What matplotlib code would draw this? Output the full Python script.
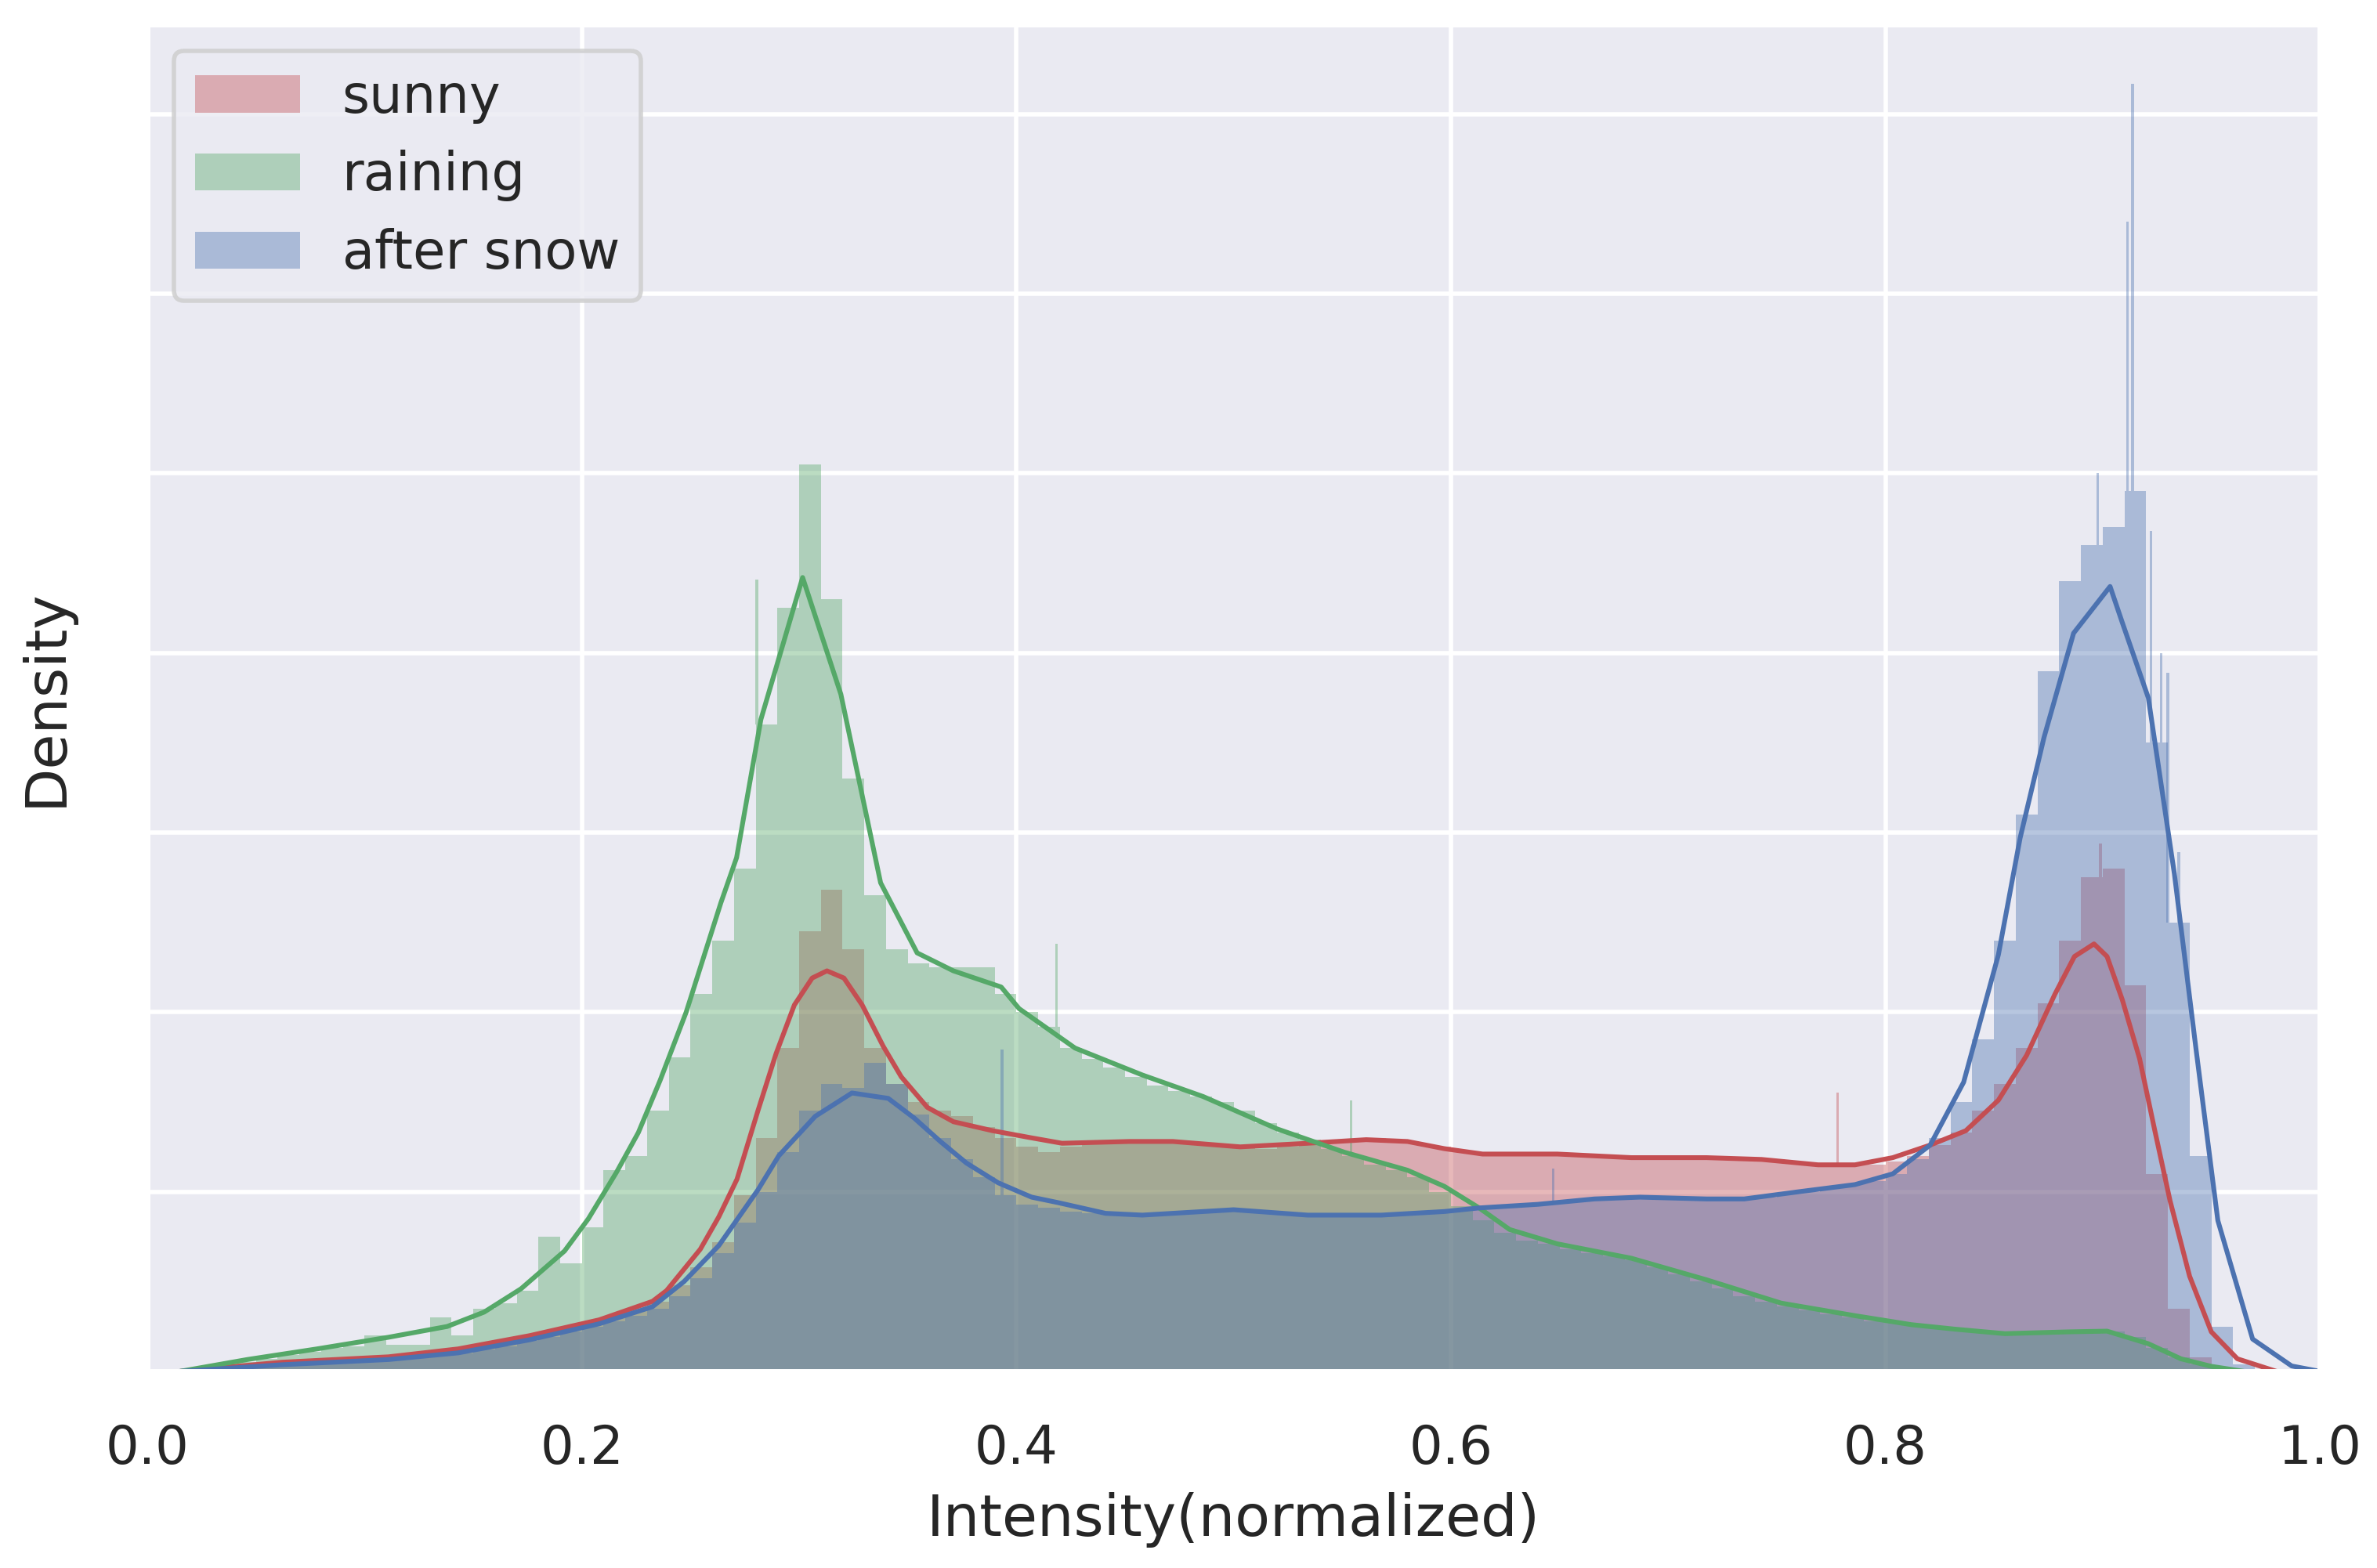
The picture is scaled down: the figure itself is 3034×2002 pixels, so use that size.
import numpy as np
import matplotlib.pyplot as plt
import seaborn as sns

sns.set_theme(style='darkgrid', font_scale=1.1)
plt.rcParams['font.family'] = ['DejaVu Sans']

labels = ['sunny', 'raining', 'after snow']
colors = ['#C44E52', '#55A868', '#4C72B0']

# histogram heights, 100 bins of width 0.01 over [0, 1]
sunny_hist = [0.0, 0.005, 0.01, 0.02, 0.03, 0.04, 0.05, 0.06, 0.065, 0.07,
              0.075, 0.08, 0.09, 0.1, 0.12, 0.14, 0.16, 0.19, 0.21, 0.24,
              0.27, 0.31, 0.34, 0.39, 0.48, 0.58, 0.72, 0.98, 1.3, 1.8,
              2.45, 2.68, 2.35, 1.8, 1.6, 1.5, 1.45, 1.42, 1.36, 1.3,
              1.25, 1.22, 1.25, 1.27, 1.28, 1.28, 1.28, 1.27, 1.26, 1.25,
              1.25, 1.24, 1.25, 1.26, 1.27, 1.28, 1.3, 1.29, 1.27, 1.25,
              1.22, 1.21, 1.2, 1.21, 1.21, 1.21, 1.2, 1.2, 1.19, 1.19,
              1.19, 1.19, 1.19, 1.18, 1.18, 1.17, 1.16, 1.15, 1.15, 1.15,
              1.17, 1.2, 1.26, 1.33, 1.45, 1.6, 1.8, 2.05, 2.4, 2.75,
              2.8, 2.15, 1.1, 0.35, 0.08, 0.02, 0.01, 0.0, 0.0, 0.0]
raining_hist = [0.0, 0.01, 0.02, 0.03, 0.05, 0.07, 0.09, 0.11, 0.13, 0.14,
                0.2, 0.15, 0.15, 0.3, 0.2, 0.35, 0.38, 0.45, 0.75, 0.6,
                0.8, 1.12, 1.2, 1.45, 1.75, 2.1, 2.4, 2.8, 3.6, 4.25,
                5.05, 4.3, 3.3, 2.65, 2.35, 2.27, 2.25, 2.25, 2.25, 2.1,
                2.0, 1.92, 1.8, 1.74, 1.69, 1.64, 1.59, 1.56, 1.53, 1.5,
                1.45, 1.38, 1.33, 1.29, 1.24, 1.2, 1.15, 1.12, 1.08, 1.0,
                0.92, 0.84, 0.77, 0.73, 0.71, 0.68, 0.66, 0.64, 0.62, 0.58,
                0.54, 0.5, 0.46, 0.42, 0.39, 0.36, 0.34, 0.32, 0.3, 0.28,
                0.27, 0.26, 0.24, 0.23, 0.22, 0.21, 0.21, 0.22, 0.22, 0.22,
                0.22, 0.19, 0.13, 0.08, 0.04, 0.02, 0.01, 0.0, 0.0, 0.0]
snow_hist = [0.0, 0.003, 0.006, 0.012, 0.02, 0.028, 0.035, 0.042, 0.05, 0.055,
             0.06, 0.065, 0.075, 0.085, 0.1, 0.12, 0.14, 0.17, 0.19, 0.22,
             0.25, 0.28, 0.31, 0.35, 0.42, 0.52, 0.66, 0.83, 1.0, 1.22,
             1.45, 1.6, 1.58, 1.72, 1.6, 1.43, 1.3, 1.18, 1.08, 0.98,
             0.93, 0.91, 0.89, 0.88, 0.87, 0.87, 0.87, 0.88, 0.89, 0.9,
             0.9, 0.89, 0.88, 0.87, 0.87, 0.87, 0.87, 0.87, 0.88, 0.89,
             0.9, 0.91, 0.92, 0.93, 0.94, 0.95, 0.96, 0.97, 0.97, 0.97,
             0.96, 0.96, 0.96, 0.96, 0.97, 0.99, 1.0, 1.02, 1.04, 1.06,
             1.1, 1.18, 1.3, 1.5, 1.85, 2.4, 3.1, 3.9, 4.4, 4.6,
             4.7, 4.9, 3.5, 2.5, 1.2, 0.25, 0.04, 0.01, 0.0, 0.0]

# single narrow bins that stick out above the histograms: (x, height)
sunny_spikes = [(0.778, 1.55), (0.899, 2.94)]
raining_spikes = [(0.2805, 4.41), (0.4185, 2.38), (0.554, 1.51)]
snow_spikes = [(0.3934, 1.79), (0.647, 1.13), (0.8976, 5.0), (0.9113, 6.4),
               (0.9137, 7.17), (0.9223, 4.68), (0.927, 4.0), (0.93, 3.89),
               (0.935, 2.89)]

# kde curves as (x, density)
sunny_kde = [(0.015, 0.0), (0.062, 0.051), (0.111, 0.081), (0.143, 0.125),
             (0.176, 0.199), (0.208, 0.287), (0.2325, 0.39), (0.239, 0.45),
             (0.2545, 0.68), (0.263, 0.86), (0.2714, 1.07), (0.281, 1.45),
             (0.2894, 1.77), (0.2978, 2.04), (0.306, 2.19), (0.3128, 2.23),
             (0.3206, 2.19), (0.329, 2.04), (0.3387, 1.81), (0.347, 1.64),
             (0.359, 1.47), (0.371, 1.39), (0.389, 1.34), (0.407, 1.30),
             (0.421, 1.27), (0.452, 1.28), (0.472, 1.28), (0.503, 1.25),
             (0.534, 1.27), (0.561, 1.29), (0.58, 1.28), (0.597, 1.24),
             (0.6146, 1.21), (0.649, 1.21), (0.683, 1.19), (0.7176, 1.19),
             (0.743, 1.18), (0.769, 1.15), (0.786, 1.15), (0.8034, 1.19),
             (0.8206, 1.26), (0.837, 1.34), (0.852, 1.51), (0.865, 1.76),
             (0.878, 2.1), (0.887, 2.31), (0.896, 2.38), (0.902, 2.31),
             (0.909, 2.07), (0.917, 1.74), (0.924, 1.34), (0.931, 0.95),
             (0.94, 0.53), (0.95, 0.22), (0.962, 0.07), (0.98, 0.0)]
raining_kde = [(0.015, 0.0), (0.046, 0.066), (0.078, 0.125), (0.111, 0.19),
               (0.138, 0.25), (0.155, 0.33), (0.172, 0.46), (0.192, 0.67),
               (0.203, 0.85), (0.216, 1.11), (0.226, 1.33), (0.236, 1.62),
               (0.248, 2.0), (0.264, 2.61), (0.2712, 2.86), (0.2824, 3.63),
               (0.3016, 4.42), (0.3192, 3.77), (0.3375, 2.72), (0.3543, 2.33),
               (0.371, 2.23), (0.393, 2.14), (0.4012, 2.02), (0.427, 1.80),
               (0.458, 1.65), (0.486, 1.53), (0.52, 1.35), (0.551, 1.22),
               (0.58, 1.12), (0.597, 1.03), (0.613, 0.91), (0.627, 0.79),
               (0.649, 0.71), (0.683, 0.63), (0.7176, 0.51), (0.752, 0.38),
               (0.786, 0.31), (0.812, 0.26), (0.832, 0.235), (0.855, 0.21),
               (0.884, 0.22), (0.902, 0.224), (0.921, 0.154), (0.936, 0.07),
               (0.95, 0.028), (0.965, 0.0)]
snow_kde = [(0.015, 0.0), (0.062, 0.037), (0.111, 0.066), (0.143, 0.103),
            (0.176, 0.176), (0.208, 0.265), (0.2325, 0.36), (0.247, 0.5),
            (0.263, 0.7), (0.281, 1.01), (0.2906, 1.2), (0.3074, 1.42),
            (0.3243, 1.55), (0.341, 1.52), (0.353, 1.41), (0.365, 1.28),
            (0.377, 1.16), (0.3916, 1.05), (0.407, 0.97), (0.419, 0.94),
            (0.441, 0.88), (0.458, 0.87), (0.5, 0.9), (0.534, 0.87),
            (0.568, 0.87), (0.597, 0.89), (0.613, 0.91), (0.64, 0.93),
            (0.666, 0.96), (0.687, 0.97), (0.7176, 0.96), (0.735, 0.96),
            (0.76, 1.0), (0.786, 1.04), (0.8034, 1.1), (0.812, 1.18),
            (0.8206, 1.26), (0.836, 1.61), (0.852, 2.32), (0.862, 2.97),
            (0.873, 3.53), (0.8866, 4.11), (0.9034, 4.37), (0.909, 4.17),
            (0.921, 3.75), (0.933, 2.77), (0.943, 1.79), (0.953, 0.84),
            (0.969, 0.18), (0.987, 0.03), (1.0, 0.0)]

hists = [sunny_hist, raining_hist, snow_hist]
spikes = [sunny_spikes, raining_spikes, snow_spikes]
kdes = [sunny_kde, raining_kde, snow_kde]

fig = plt.figure(figsize=(7.585, 5.005), dpi=400)
ax = fig.add_axes([0.062, 0.1254, 0.914, 0.8591])

edges = np.linspace(0, 1, len(sunny_hist) + 1)
nbins = len(sunny_hist)

for hist, sp, color, label in zip(hists, spikes, colors, labels):
    ax.stairs(hist, edges, fill=True, color=color, alpha=0.4, lw=0, label=label)
    for x, h in sp:
        base = hist[int(x * nbins)]
        ax.bar(x, h - base, bottom=base, width=0.0012, color=color,
               alpha=0.4, lw=0)

for kde, color in zip(kdes, colors):
    kx, ky = zip(*kde)
    ax.plot(kx, ky, color=color, lw=1.1)

ax.set_xlim(0, 1)
ax.set_ylim(0, 7.5)
ax.set_xticks([0.0, 0.2, 0.4, 0.6, 0.8, 1.0])
ax.set_yticks(range(8))
ax.set_yticklabels([])
ax.tick_params(axis='x', pad=plt.rcParams['xtick.major.pad'] + 2.4)
ax.set_xlabel('Intensity(normalized)')
ax.set_ylabel('Density')
ax.yaxis.set_label_coords(-0.034, 0.5)
ax.legend(loc='upper left')

fig.savefig('out.png', dpi=400)
